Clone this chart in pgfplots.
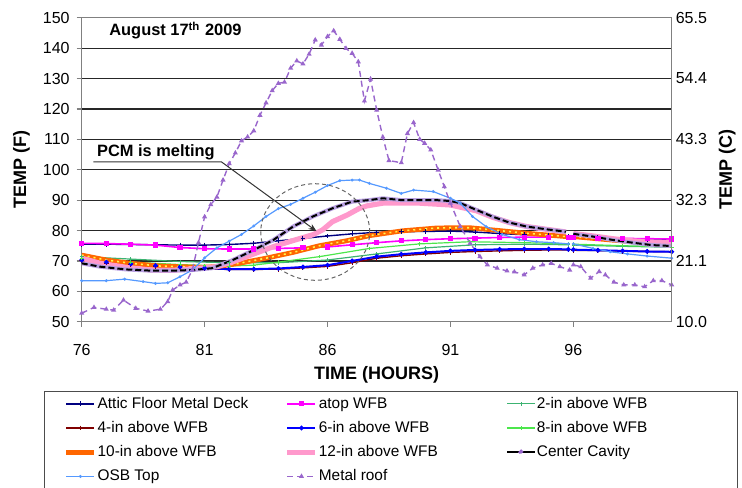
\documentclass[border=0pt]{standalone}
\usepackage{fontspec}
\setmainfont{Liberation Sans}
\usepackage{pgfplots}
\pgfplotsset{compat=1.18}
\usetikzlibrary{arrows.meta}
\definecolor{navyc}{HTML}{000080}
\definecolor{magc}{HTML}{FF00FF}
\definecolor{seag}{HTML}{3CB371}
\definecolor{dred}{HTML}{800000}
\definecolor{blu}{HTML}{0000FF}
\definecolor{limeg}{HTML}{4CE64C}
\definecolor{orng}{HTML}{FF6600}
\definecolor{pnk}{HTML}{FF99CC}
\definecolor{osb}{HTML}{5599FF}
\definecolor{roof}{HTML}{9966CC}
\definecolor{lav}{HTML}{B8A0E0}
\begin{document}
\begin{tikzpicture}
\begin{axis}[name=main,
  scale only axis, width=295pt, height=152pt,
  xmin=76, xmax=100, ymin=50, ymax=150,
  xtick={76,81,86,91,96}, ytick={50,60,...,150},
  xtick pos=left, ytick pos=left, tick align=outside,
  major tick length=2.5pt,
  tick style={gray, line width=0.6pt},
  ymajorgrids, grid style={black!85, line width=0.6pt},
  axis line style={gray, line width=0.6pt},
  ticklabel style={font=\fontsize{8}{9}\selectfont},
  xticklabel style={yshift=-5.5pt},
  /pgf/number format/assume math mode=true,
  unbounded coords=jump,
  xlabel={TIME (HOURS)}, ylabel={TEMP (F)},
  every axis x label/.style={at={(axis description cs:0.5,-0.175)}, anchor=center, font=\fontsize{9}{10}\selectfont\bfseries},
  every axis y label/.style={at={(axis description cs:-0.102,0.5)}, rotate=90, anchor=center, font=\fontsize{9}{10}\selectfont\bfseries},
  legend columns=3, legend cell align=left,
  legend image code/.code={\draw[mark repeat=2,mark phase=2] plot coordinates {(0pt,0pt) (7pt,0pt) (14pt,0pt)};},
  legend style={at={(-0.0646,-0.227)}, anchor=north west, draw=black!70, line width=0.5pt,
    inner xsep=10pt, inner ysep=2.4pt,
    font=\fontsize{7.7}{9}\selectfont,
    nodes={inner xsep=0.4pt, inner ysep=0pt, text height=6pt, text depth=1.8pt},
    /tikz/row sep=4.3pt,
    /tikz/every even column/.append style={column sep=3.2pt}},
]
% Attic Floor Metal Deck
\addplot[navyc, line width=0.7pt, mark=+, mark size=1.2pt, mark options={line width=0.5pt}] coordinates {
(76,75.5) (77,75.5) (78,75.4) (79,75.3) (80,75.2) (81,75.2) (82,75.4) (83,75.8) (84,76.6) (85,77.4) (86,78.2) (87,78.9) (88,79.4) (89,79.6) (90,79.7) (91,79.8) (92,79.5) (93,79.0) (94,78.6) (95,78.3) (95.8,78.0) (95.9,nan) (96,77.9) (97,77.6) (98,77.3) (99,77.1) (100,76.9)};
\addlegendentry{\makebox[90pt][l]{Attic Floor Metal Deck}}
% atop WFB
\addplot[magc, line width=0.8pt, mark=square*, mark size=0.9pt] coordinates {
(76,75.8) (77,75.7) (78,75.5) (79,75.2) (80,74.4) (81,74.0) (82,73.9) (83,73.9) (84,74.1) (85,74.3) (86,74.6) (87,75.3) (88,76.0) (89,76.6) (90,77.0) (91,77.3) (92,77.5) (93,77.7) (94,77.8) (95,77.8) (95.8,77.8) (95.9,nan) (96,77.6) (97,77.5) (98,77.4) (99,77.3) (100,77.2)};
\addlegendentry{\makebox[90pt][l]{atop WFB}}
% 2-in
\addplot[seag, line width=0.6pt, mark=+, mark size=0.9pt, mark options={line width=0.4pt}] coordinates {
(76,71.4) (78,70.6) (80,69.8) (82,69.4) (84,69.4) (86,70.3) (88,72.3) (90,74.3) (92,75.3) (94,75.5) (95.8,75.3) (95.9,nan) (96,75.2) (98,74.8) (100,74.5)};
\addlegendentry{\makebox[90pt][l]{2-in above WFB}}
% 4-in
\addplot[dred, line width=0.7pt, mark=+, mark size=1.2pt, mark options={line width=0.5pt}] coordinates {
(76,70.0) (77,69.3) (78,68.7) (79,68.2) (80,67.8) (81,67.4) (82,67.2) (83,67.2) (84,67.3) (85,67.7) (86,68.2) (87,69.4) (88,70.9) (89,71.7) (90,72.3) (91,72.8) (92,73.1) (93,73.3) (94,73.5) (95,73.6) (95.8,73.6) (95.9,nan) (96,73.5) (97,73.4) (98,73.2) (99,73.1) (100,73.0)};
\addlegendentry{\makebox[90pt][l]{4-in above WFB}}
% 6-in
\addplot[blu, line width=1pt, mark=*, mark size=0.6pt] coordinates {
(76,70.3) (77,69.6) (78,69.0) (79,68.5) (80,68.0) (81,67.6) (82,67.3) (83,67.3) (84,67.5) (85,68.0) (86,68.6) (87,70.0) (88,71.4) (89,72.2) (90,72.8) (91,73.3) (92,73.6) (93,73.8) (94,73.9) (95,73.9) (95.8,73.8) (95.9,nan) (96,73.7) (97,73.5) (98,73.3) (99,73.1) (100,73.0)};
\addlegendentry{\makebox[90pt][l]{6-in above WFB}}
% 8-in
\addplot[limeg, line width=0.6pt, mark=+, mark size=0.9pt, mark options={line width=0.4pt}] coordinates {
(76,70.8) (78,69.6) (80,68.8) (81,68.5) (82,68.3) (83,68.6) (84,69.6) (85.67,71.4) (87.7,74.1) (89.75,75.6) (91.78,76.3) (94,76.0) (95.8,75.6) (95.9,nan) (96,75.5) (98,75.0) (100,74.6)};
\addlegendentry{\makebox[90pt][l]{8-in above WFB}}
% 10-in
\addplot[orng, line width=2.4pt] coordinates {
(76,71.9) (77,70.3) (78,69.2) (79.2,68.3) (80,68.1) (80.8,67.9) (81.5,68.1) (82.4,69.2) (83.5,70.9) (84.6,72.8) (85.67,75.0) (86.76,76.6) (87.7,78.3) (89.05,79.9) (90.4,80.8) (91.0,80.9) (91.8,80.9) (92.7,80.2) (94.1,79.1) (95.7,78.0) (95.9,nan) (96.0,78.0) (97.5,76.9) (98.85,76.0) (100,75.2)};
\addlegendentry{\makebox[90pt][l]{10-in above WFB}}
\addplot[yellow!70, line width=0.8pt, dash pattern=on 1pt off 2pt, forget plot] coordinates {
(76,71.9) (77,70.3) (78,69.2) (79.2,68.3) (80,68.1) (80.8,67.9) (81.5,68.1) (82.4,69.2) (83.5,70.9) (84.6,72.8) (85.67,75.0) (86.76,76.6) (87.7,78.3) (89.05,79.9) (90.4,80.8) (91.0,80.9) (91.8,80.9) (92.7,80.2) (94.1,79.1) (95.7,78.0) (95.9,nan) (96.0,78.0) (97.5,76.9) (98.85,76.0) (100,75.2)};
% 12-in
\addplot[pnk, line width=2.6pt] coordinates {
(76,70.9) (76.75,69.2) (77.8,67.9) (78.8,67.0) (79.7,66.9) (80.8,67.6) (81.5,68.1) (82.15,69.7) (83.0,72.3) (83.8,74.7) (84.6,76.7) (85.4,78.6) (85.8,80.2) (86.2,82.9) (86.8,85.1) (87.3,87.3) (87.6,88.1) (88.25,89.0) (89.75,89.0) (91.0,88.4) (92.05,86.5) (92.7,84.4) (93.4,82.6) (94.1,81.3) (94.9,80.4) (95.7,79.5) (95.9,nan) (96.0,79.0) (96.8,78.2) (97.6,77.3) (98.4,76.6) (99.2,76.2) (100,76.0)};
\addlegendentry{\makebox[90pt][l]{12-in above WFB}}
% Center cavity
\addplot[lav, line width=2pt, forget plot] coordinates {
(76,69.2) (76.75,68.1) (77.8,67.2) (78.8,66.8) (79.7,66.8) (80.5,67.0) (81.3,67.6) (82.15,70.3) (83.0,73.6) (83.8,76.9) (84.6,81.3) (85.4,84.6) (86.2,87.3) (87.0,89.5) (87.7,90.0) (88.25,90.6) (89.0,90.0) (90.4,90.0) (91.0,89.7) (91.4,89.0) (92.05,86.8) (92.7,84.6) (93.4,82.6) (94.1,81.3) (94.9,80.4) (95.7,79.6) (95.9,nan) (96.0,78.9) (96.8,78.0) (97.6,76.9) (98.4,76.0) (99.2,75.2) (100,74.9)};
\addplot[black, line width=1pt, dash pattern=on 3pt off 1.5pt, legend image code/.code={\draw[solid] (0pt,0pt) -- (14pt,0pt); \fill[roof] (7pt,0pt) circle (0.8pt);}] coordinates {
(76,69.2) (76.75,68.1) (77.8,67.2) (78.8,66.8) (79.7,66.8) (80.5,67.0) (81.3,67.6) (82.15,70.3) (83.0,73.6) (83.8,76.9) (84.6,81.3) (85.4,84.6) (86.2,87.3) (87.0,89.5) (87.7,90.0) (88.25,90.6) (89.0,90.0) (90.4,90.0) (91.0,89.7) (91.4,89.0) (92.05,86.8) (92.7,84.6) (93.4,82.6) (94.1,81.3) (94.9,80.4) (95.7,79.6) (95.9,nan) (96.0,78.9) (96.8,78.0) (97.6,76.9) (98.4,76.0) (99.2,75.2) (100,74.9)};
\addlegendentry{\makebox[90pt][l]{Center Cavity}}
% OSB Top
\addplot[osb, line width=0.6pt, mark=*, mark size=0.4pt] coordinates {
(76,63.5) (77,63.5) (77.75,64.0) (78.5,63.2) (79,62.6) (79.5,62.8) (80,64.8) (80.5,67.0) (81,71.0) (81.5,74.3) (82,76.5) (82.5,78.7) (83,81.5) (83.5,84.6) (84,87.2) (84.5,88.6) (85,90.6) (85.5,92.6) (86,94.8) (86.5,96.4) (87,96.6) (87.3,96.6) (87.7,95.5) (88.4,93.9) (89.0,92.2) (89.5,93.3) (90.3,92.8) (91.0,90.6) (91.4,89.0) (91.9,84.6) (92.45,81.3) (93.1,78.7) (93.8,77.0) (94.5,76.3) (95.2,76.0) (95.8,75.6) (95.9,nan) (96.0,75.6) (96.8,74.1) (97.5,73.0) (98.2,72.3) (99.0,71.6) (100,70.9)};
\addlegendentry{\makebox[90pt][l]{OSB Top}}
% Metal roof
\addplot[roof, line width=0.7pt, dash pattern=on 3pt off 2pt, mark=triangle*, mark size=0.8pt, mark options={solid}] coordinates {
(76,52.8) (76.5,54.7) (77.0,54.1) (77.3,53.8) (77.7,57.1) (78.2,54.4) (78.7,53.5) (79.2,54.1) (79.5,56.6) (79.7,60.4) (80.0,62.1) (80.25,63.0) (80.5,67.0) (80.75,76.0) (81.0,84.5) (81.25,88.5) (81.5,91.0) (81.75,96.6) (82.0,102.0) (82.25,105.5) (82.5,109.5) (82.75,110.8) (83.0,112.8) (83.25,117.9) (83.5,122.0) (83.75,126.0) (84.0,128.4) (84.25,128.8) (84.5,133.4) (84.75,135.8) (85.0,134.8) (85.25,138.0) (85.5,142.7) (85.75,141.0) (86.0,143.8) (86.25,145.7) (86.5,142.9) (86.75,139.9) (87.0,138.3) (87.25,135.5) (87.5,122.6) (87.75,129.8) (88.0,119.6) (88.25,110.7) (88.5,103.0) (89.0,102.3) (89.25,111.9) (89.5,115.5) (89.75,110.0) (89.95,108.7) (90.2,106.5) (90.5,99.9) (90.75,94.4) (91.0,89.0) (91.4,81.3) (91.8,75.8) (92.2,71.4) (92.5,68.7) (92.9,67.6) (93.3,66.7) (93.6,66.4) (94.0,65.4) (94.35,67.6) (94.75,68.7) (95.1,69.2) (95.45,68.1) (95.85,67.0) (95.92,nan) (96.0,68.7) (96.3,68.1) (96.7,64.3) (97.05,66.5) (97.3,65.4) (97.65,63.0) (98.05,62.1) (98.5,62.1) (98.9,61.5) (99.25,63.5) (99.6,63.5) (100,62.1)};
\addlegendentry{\makebox[90pt][l]{Metal roof}}
% annotations
\node[anchor=base west, inner sep=0pt, font=\fontsize{8.2}{9}\selectfont\bfseries] at (axis cs:77.11,144.0) {August 17\textsuperscript{th} 2009};
\node[anchor=base west, inner sep=0pt, font=\fontsize{8.2}{9}\selectfont\bfseries] at (axis cs:76.61,104.3) {PCM is melting};
\draw[black!80, line width=0.5pt, -{Stealth[length=4pt,width=3pt]}] (axis cs:76.47,102.6) -- (axis cs:81.68,102.6) -- (axis cs:85.55,79.8);
\draw[black!60, line width=0.5pt, dash pattern=on 2pt off 1.5pt] (axis cs:85.5,79.5) ellipse [x radius=27.25pt, y radius=24.15pt];
\end{axis}
\begin{axis}[
  scale only axis, width=295pt, height=152pt,
  xmin=76, xmax=100, ymin=50, ymax=150,
  axis x line=none, axis y line*=right,
  ytick={50,70,...,150}, yticklabels={10.0,21.1,32.3,43.3,54.4,65.5},
  major tick length=0pt,
  axis line style={gray, line width=0.6pt},
  ticklabel style={font=\fontsize{8}{9}\selectfont},
  yticklabel style={xshift=-1.5pt},
  ylabel={TEMP (C)},
  every axis y label/.style={at={(axis description cs:1.094,0.5)}, rotate=90, anchor=center, font=\fontsize{9}{10}\selectfont\bfseries},
]
\addplot[draw=none, forget plot] coordinates {(76,50) (100,150)};
\end{axis}
\pgfresetboundingbox
\path[use as bounding box] ([xshift=-40.85pt,yshift=-82.65pt]main.south west) rectangle ([xshift=35.15pt,yshift=8.85pt]main.north east);
\end{tikzpicture}
\end{document}
